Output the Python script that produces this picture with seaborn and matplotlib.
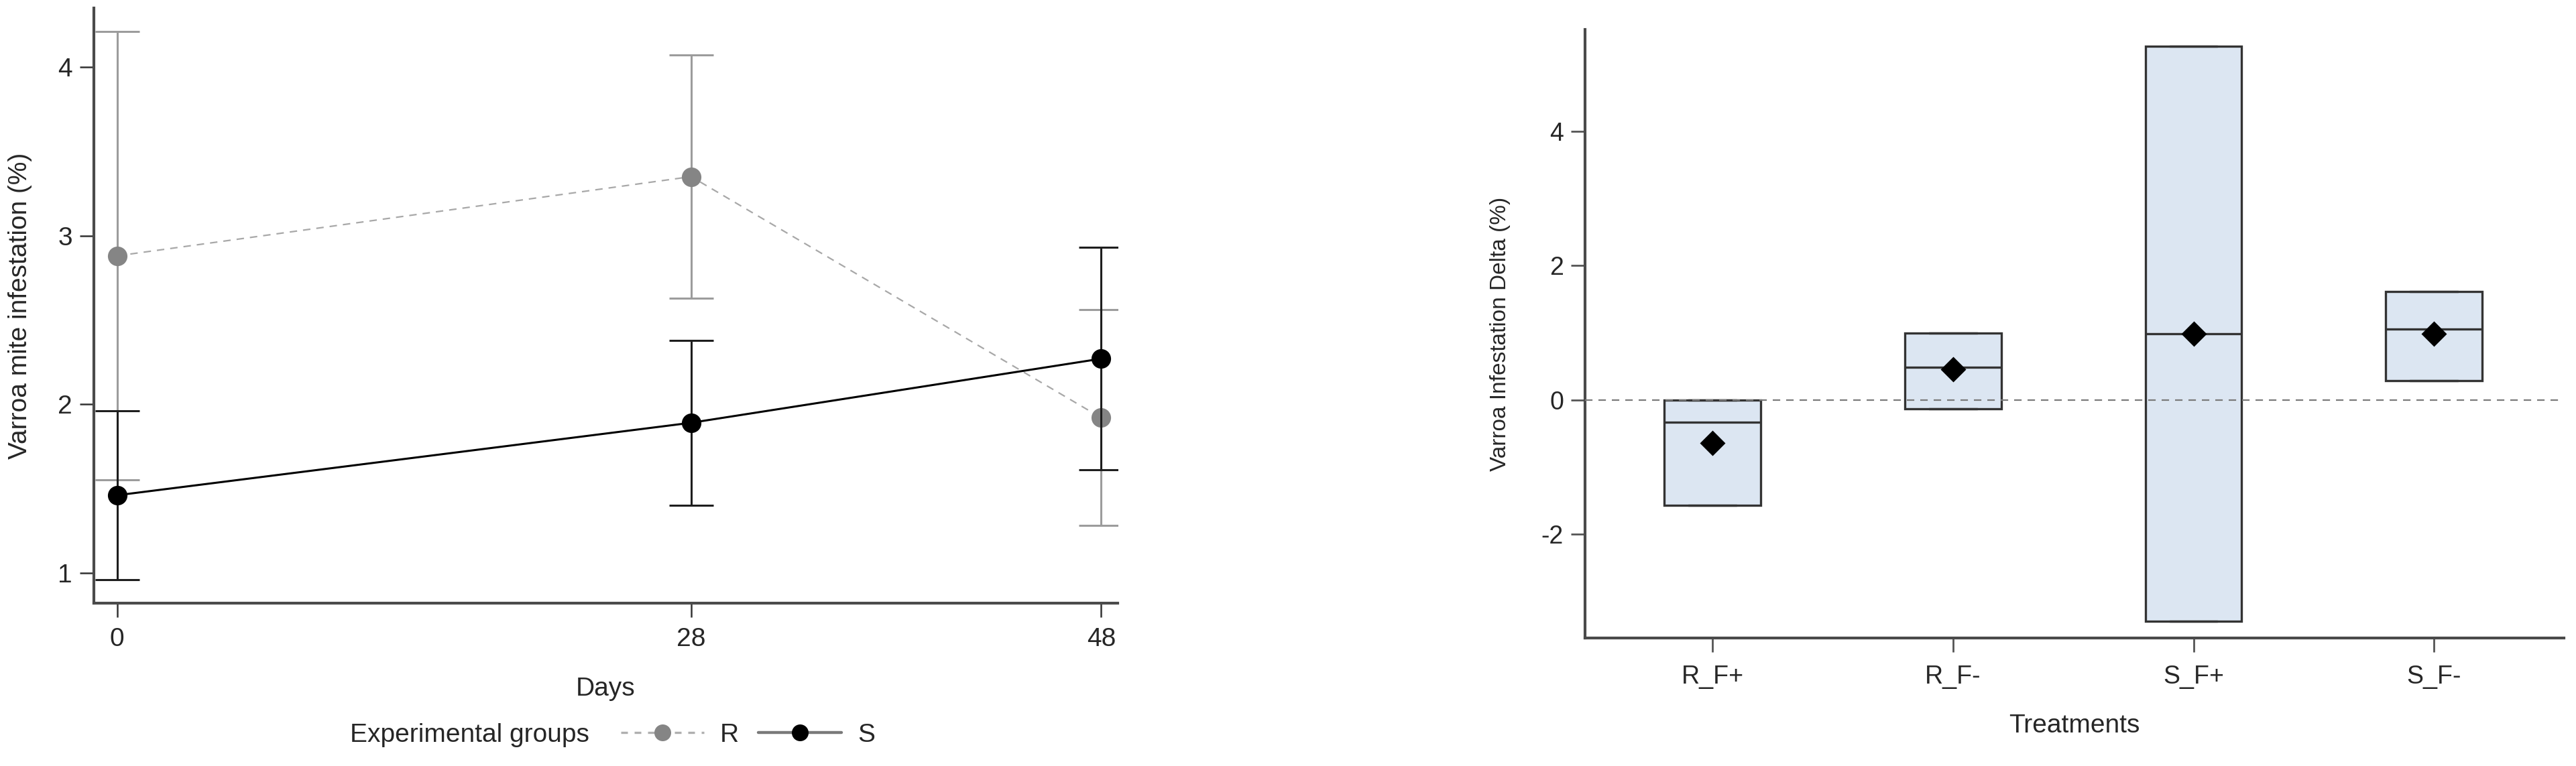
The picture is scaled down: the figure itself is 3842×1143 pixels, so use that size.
import pandas as pd
import numpy as np
import matplotlib
matplotlib.use("Agg")
import matplotlib.pyplot as plt
from matplotlib.lines import Line2D
import seaborn as sns

# left panel: varroa infestation over time (mean +/- error)
days = [0, 28, 48]
r_mean = [2.88, 3.35, 1.92]
r_err = [1.33, 0.72, 0.64]
s_mean = [1.46, 1.89, 2.27]
s_err = [0.50, 0.49, 0.66]

# right panel: infestation delta per treatment
treatments = ["R_F+", "R_F-", "S_F+", "S_F-"]
q1 = [-1.57, -0.13, -3.30, 0.29]
medians = [-0.33, 0.49, 0.99, 1.05]
q3 = [0.00, 1.00, 5.27, 1.61]
means = [-0.64, 0.46, 0.99, 0.99]

sns.set_style("ticks")
plt.rcParams["font.family"] = ["Liberation Sans", "DejaVu Sans"]
plt.rcParams["axes.unicode_minus"] = False

fig = plt.figure(figsize=(38.42, 11.43), dpi=100)
ax1 = fig.add_axes([0.03644, 0.2126, 0.3974, 0.7769])
ax2 = fig.add_axes([0.6153, 0.1671, 0.3800, 0.7944])

df_r = pd.DataFrame({"day": days, "pct": r_mean})
df_s = pd.DataFrame({"day": days, "pct": s_mean})

# R group
ax1.errorbar(days, r_mean, yerr=r_err, fmt="none", ecolor="#9c9c9c", elinewidth=2.2, capsize=24, capthick=2.2, zorder=1)
sns.lineplot(data=df_r, x="day", y="pct", color="#a8a8a8", linewidth=1.6, linestyle=(0, (5, 4)), ax=ax1, zorder=2)
ax1.plot(days, r_mean, "o", color="#858585", markersize=21, markeredgewidth=0, zorder=3)
# S group
ax1.errorbar(days, s_mean, yerr=s_err, fmt="none", ecolor="#1e1e1e", elinewidth=2.2, capsize=24, capthick=2.2, zorder=4)
sns.lineplot(data=df_s, x="day", y="pct", color="black", linewidth=2.2, ax=ax1, zorder=5)
ax1.plot(days, s_mean, "o", color="black", markersize=21, markeredgewidth=0, zorder=6)

ax1.set_xlim(-1.13, 48.8)
ax1.set_ylim(0.82, 4.35)
ax1.set_xticks(days)
ax1.set_yticks([1, 2, 3, 4])
ax1.set_xlabel("Days", fontsize=28)
ax1.set_ylabel("Varroa mite infestation (%)", fontsize=28)
ax1.xaxis.set_label_coords(0.5, -0.124)
ax1.yaxis.set_label_coords(-0.060, 0.5)
ax1.tick_params(axis="both", length=15, width=1.8, color="#333333", labelsize=28)
ax1.tick_params(axis="x", pad=11)
ax1.tick_params(axis="y", pad=8)
sns.despine(ax=ax1)
for sp in ["left", "bottom"]:
    ax1.spines[sp].set_color("#4a4a4a")
    ax1.spines[sp].set_linewidth(3)

# legend for left panel
handles = [
    Line2D([], [], color="#b0b0b0", linestyle=(0, (3, 3)), linewidth=2.4, marker="o", markersize=18, markerfacecolor="#858585", markeredgewidth=0),
    Line2D([], [], color="#7a7a7a", linewidth=3.2, marker="o", markersize=18, markerfacecolor="black", markeredgewidth=0),
]
fig.text(0.1359, 0.0402, "Experimental groups", fontsize=28, va="center", ha="left")
fig.legend(handles, ["R", "S"], loc="center left", bbox_to_anchor=(0.241, 0.0402), ncol=2, frameon=False,
           fontsize=28, handlelength=3.2, handletextpad=0.6, columnspacing=0.75, borderpad=0, borderaxespad=0)

# right panel: boxes built from quartiles (5 values give exact q1/median/q3)
rows = []
for t, a, m, b in zip(treatments, q1, medians, q3):
    for v in [a, a, m, b, b]:
        rows.append({"treatment": t, "delta": v})
df_box = pd.DataFrame(rows)

sns.boxplot(data=df_box, x="treatment", y="delta", order=treatments, width=0.4, color="#dce6f2",
            linecolor="#333333", linewidth=2.4, saturation=1, ax=ax2)
ax2.axhline(0, color="#7a7a7a", linestyle=(0, (5, 4)), linewidth=1.6, zorder=5)
df_mean = pd.DataFrame({"treatment": treatments, "delta": means})
sns.pointplot(data=df_mean, x="treatment", y="delta", order=treatments, linestyle="none", marker="D",
              color="black", markersize=17, errorbar=None, ax=ax2, zorder=6)

ax2.set_xlim(-0.53, 3.54)
ax2.set_ylim(-3.55, 5.52)
ax2.set_yticks([-2, 0, 2, 4])
ax2.set_xlabel("Treatments", fontsize=28)
ax2.set_ylabel("Varroa Infestation Delta (%)", fontsize=24)
ax2.xaxis.set_label_coords(0.5, -0.124)
ax2.yaxis.set_label_coords(-0.076, 0.5)
ax2.tick_params(axis="both", length=15, width=2, color="#555555", labelsize=27)
ax2.tick_params(axis="x", pad=14)
ax2.tick_params(axis="y", pad=8)
sns.despine(ax=ax2)
for sp in ["left", "bottom"]:
    ax2.spines[sp].set_color("#4a4a4a")
    ax2.spines[sp].set_linewidth(3)

fig.savefig("out.png", dpi=100, facecolor="white")
